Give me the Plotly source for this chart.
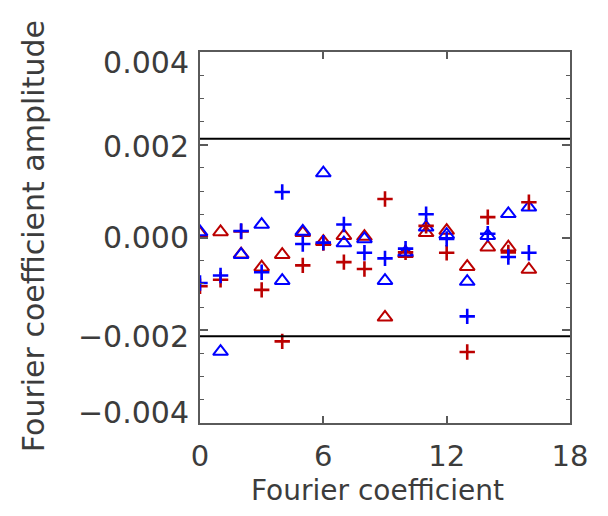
import plotly.graph_objects as go

coef = list(range(17))

red_plus = [-0.00105, -0.00091, 0.00013, -0.00113, -0.00224, -0.00060, -0.00012, -0.00053,
            -0.00068, 0.00083, -0.00032, 0.00025, -0.00033, -0.00247, 0.00044, -0.00032, 0.00076]
blue_plus = [-0.00098, -0.00082, 0.00014, -0.00075, 0.00098, -0.00014, -0.00011, 0.00028,
             -0.00033, -0.00045, -0.00024, 0.00050, -0.00003, -0.00170, 0.00008, -0.00042, -0.00033]
red_tri = [0.00009, 0.00012, -0.00036, -0.00064, -0.00037, 0.00010, -0.00009, 0.00004,
           0.00002, -0.00172, -0.00035, 0.00010, 0.00015, -0.00063, -0.00021, -0.00021, -0.00069]
blue_tri = [0.00012, -0.00246, -0.00037, 0.00028, -0.00093, 0.00013, 0.00139, -0.00012,
            -0.00003, -0.00093, -0.00032, 0.00022, 0.00006, -0.00095, 0.00004, 0.00051, 0.00065]

limits = [0.00213, -0.00213]
x_ticks = [0, 6, 12, 18]
y_ticks = [-0.004, -0.002, 0.0, 0.002, 0.004]
y_label_pos = [0.003763, 0.001973, 0.0, -0.002124, -0.003763]
y_label_text = ["0.004", "0.002", "0.000", "\u22120.002", "\u22120.004"]
x_title = "Fourier coefficient"
y_title = "Fourier coefficient amplitude"

RED = "#bb0000"
BLUE = "#0000ff"
AXC = "#5a5a5a"
TXT = "#3c3c3c"
FONT = "DejaVu Sans, sans-serif"

fig = go.Figure()

for lim in limits:
    fig.add_trace(go.Scatter(x=[x_ticks[0], x_ticks[-1]], y=[lim, lim], mode="lines",
                             line=dict(color="black", width=2), yaxis="y2",
                             showlegend=False, hoverinfo="skip"))

fig.add_trace(go.Scatter(x=coef, y=red_tri, mode="markers",
                         marker=dict(symbol="triangle-up-open", size=13, color=RED,
                                     line=dict(color=RED, width=2)), showlegend=False))
fig.add_trace(go.Scatter(x=coef, y=blue_tri, mode="markers",
                         marker=dict(symbol="triangle-up-open", size=13, color=BLUE,
                                     line=dict(color=BLUE, width=2)), showlegend=False))
fig.add_trace(go.Scatter(x=coef, y=red_plus, mode="markers",
                         marker=dict(symbol="cross-thin", size=11, color=RED,
                                     line=dict(color=RED, width=2.6)), showlegend=False))
fig.add_trace(go.Scatter(x=coef, y=blue_plus, mode="markers",
                         marker=dict(symbol="cross-thin", size=11, color=BLUE,
                                     line=dict(color=BLUE, width=2.6)), showlegend=False))

fig.update_layout(
    width=608, height=516,
    margin=dict(l=200, r=38, t=52, b=93),
    paper_bgcolor="white", plot_bgcolor="white",
    font=dict(family=FONT, size=29, color=TXT),
    xaxis=dict(range=[0, 18], tickmode="array", tickvals=x_ticks,
               ticks="inside", ticklen=7, tickwidth=1.5, tickcolor=AXC,
               showline=True, linecolor=AXC, linewidth=2, mirror="ticks",
               showgrid=False, zeroline=False,
               tickfont=dict(family=FONT, size=29, color=TXT),
               ticklabelstandoff=6),
    yaxis=dict(range=[-0.004, 0.004], tickmode="array", tickvals=y_ticks,
               ticks="inside", ticklen=8, tickwidth=1.5, tickcolor=AXC,
               minor=dict(dtick=0.0005, tick0=-0.004, ticks="inside", ticklen=4,
                          tickwidth=1.2, tickcolor=AXC, showgrid=False),
               showticklabels=False,
               showline=True, linecolor=AXC, linewidth=2, mirror="ticks",
               showgrid=False, zeroline=False),
    yaxis2=dict(range=[-0.004, 0.004], overlaying="y", side="left",
                tickmode="array", tickvals=y_label_pos, ticktext=y_label_text,
                ticks="", showline=False, showgrid=False, zeroline=False,
                tickfont=dict(family=FONT, size=30, color=TXT),
                ticklabelstandoff=10),
    annotations=[
        dict(text=x_title, xref="paper", yref="paper", x=0.48, y=-0.183,
             xanchor="center", yanchor="middle", showarrow=False,
             font=dict(family=FONT, size=28, color=TXT)),
        dict(text=y_title, xref="paper", yref="paper", x=-0.451, y=0.504,
             xanchor="center", yanchor="middle", showarrow=False, textangle=-90,
             font=dict(family=FONT, size=30, color=TXT)),
    ],
)

fig.write_html("out.html")
